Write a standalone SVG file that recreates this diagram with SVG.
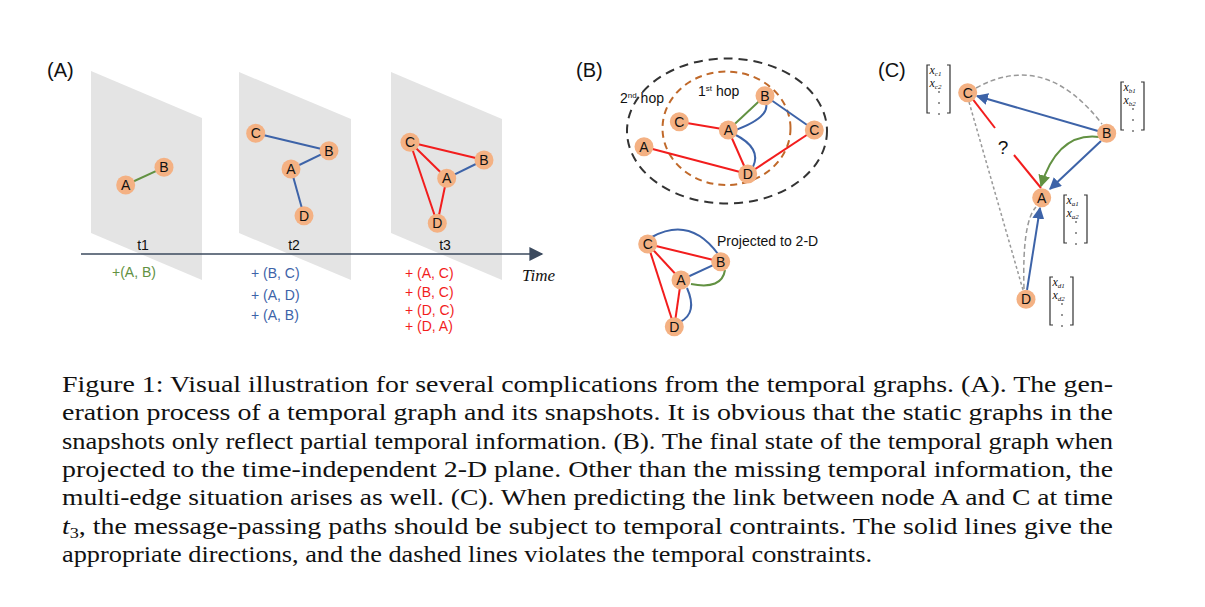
<svg xmlns="http://www.w3.org/2000/svg" width="1205" height="607" viewBox="0 0 1205 607">
<defs>
<style>
.plane{fill:#e4e4e4}
.nd{fill:#f4b183}
.nl{font-family:"Liberation Sans",Arial,sans-serif;font-size:14px;fill:#111;text-anchor:middle;dominant-baseline:central}
.lab{font-family:"Liberation Sans",Arial,sans-serif;font-size:20px;fill:#111}
.sm{font-family:"Liberation Sans",Arial,sans-serif;font-size:14px}
.g{stroke:#629142;stroke-width:2;fill:none}
.b{stroke:#3d63a8;stroke-width:2;fill:none}
.r{stroke:#f21d1d;stroke-width:2;fill:none}
.dg{stroke:#999;stroke-width:1.5;fill:none;stroke-dasharray:5 3}
.cap{font-family:"Liberation Serif","Times New Roman",serif;font-size:23px;fill:#111}
.mx{font-family:"Liberation Serif",serif;font-style:italic;font-size:12px;fill:#111}
.br{stroke:#333;stroke-width:1.2;fill:none}
</style>
<marker id="ab" viewBox="0 0 10 10" refX="9" refY="5" markerWidth="6" markerHeight="6" orient="auto"><path d="M0,0 L10,5 L0,10 z" fill="#3d63a8"/></marker>
<marker id="ag" viewBox="0 0 10 10" refX="9" refY="5" markerWidth="6" markerHeight="6" orient="auto"><path d="M0,0 L10,5 L0,10 z" fill="#629142"/></marker>
<marker id="at" viewBox="0 0 10 10" refX="9" refY="5" markerWidth="15" markerHeight="14" orient="auto" markerUnits="userSpaceOnUse"><path d="M0,0 L10,5 L0,10 z" fill="#3b4a5e"/></marker>
<symbol id="mat" overflow="visible">
<path class="br" d="M3,0 H0 V48 H3 M20,0 H23 V48 H20"/>
<circle cx="12" cy="27" r="0.8" fill="#111"/>
<circle cx="12" cy="38" r="0.8" fill="#111"/>
<circle cx="12" cy="49" r="0.8" fill="#111"/>
</symbol>
</defs>
<rect width="1205" height="607" fill="#fff"/>

<!-- Panel A -->
<g id="panelA">
<text class="lab" x="47" y="77">(A)</text>
<polygon class="plane" points="91,71 202,118 202,280 91,233"/>
<polygon class="plane" points="239,72 351,119 351,280 239,233"/>
<polygon class="plane" points="391,72 502,119 502,280 391,233"/>
<text class="sm" x="143" y="250" text-anchor="middle" fill="#111">t1</text>
<text class="sm" x="294" y="250" text-anchor="middle" fill="#111">t2</text>
<text class="sm" x="445" y="250" text-anchor="middle" fill="#111">t3</text>
<text x="522" y="281" font-family="Liberation Serif,serif" font-style="italic" font-size="17" fill="#111">Time</text>
<text class="sm" x="112" y="277" fill="#629142">+(A, B)</text>
<text class="sm" x="251" y="278" fill="#3d63a8">+ (B, C)</text>
<text class="sm" x="251" y="300" fill="#3d63a8">+ (A, D)</text>
<text class="sm" x="251" y="320" fill="#3d63a8">+ (A, B)</text>
<text class="sm" x="405" y="278" fill="#f21d1d">+ (A, C)</text>
<text class="sm" x="405" y="297" fill="#f21d1d">+ (B, C)</text>
<text class="sm" x="405" y="315" fill="#f21d1d">+ (D, C)</text>
<text class="sm" x="405" y="331" fill="#f21d1d">+ (D, A)</text>
</g>

<g id="connectors">
<line x1="81" y1="254" x2="542" y2="254" stroke="#3b4a5e" stroke-width="1.5" marker-end="url(#at)"/>
<line class="g" x1="125.7" y1="185" x2="164" y2="167.3"/>
<line class="b" x1="255.7" y1="133.3" x2="329" y2="150.7"/>
<line class="b" x1="291" y1="169" x2="329" y2="150.7"/>
<line class="b" x1="291" y1="169" x2="304" y2="215.7"/>
<line class="r" x1="410" y1="142.3" x2="484" y2="160"/>
<line class="r" x1="410" y1="142.3" x2="446.7" y2="178.3"/>
<line class="r" x1="410" y1="142.3" x2="437.3" y2="223.3"/>
<line class="r" x1="446.7" y1="178.3" x2="437.3" y2="223.3"/>
<line class="b" x1="446.7" y1="178.3" x2="484" y2="160"/>
<ellipse cx="727" cy="131" rx="100" ry="72.5" fill="none" stroke="#333" stroke-width="2" stroke-dasharray="9 6"/>
<ellipse cx="726.5" cy="128.3" rx="64" ry="56.7" fill="none" stroke="#c0692a" stroke-width="2" stroke-dasharray="7 5"/>
<line class="r" x1="679.3" y1="121.7" x2="728.3" y2="130"/>
<line class="g" x1="728.3" y1="130" x2="765" y2="95.7"/>
<path class="b" d="M733,131 Q770,118 766,103"/>
<path class="b" d="M734,134 Q762,148 753,167"/>
<line class="b" x1="765" y1="95.7" x2="814.3" y2="130"/>
<line class="r" x1="814.3" y1="130" x2="747.7" y2="174"/>
<line class="r" x1="644" y1="146.7" x2="747.7" y2="174"/>
<line class="r" x1="728.3" y1="130" x2="747.7" y2="174"/>
<path class="b" d="M652,237 Q690,216 718,254"/>
<line class="r" x1="647.7" y1="244" x2="720.7" y2="261.7"/>
<line class="r" x1="647.7" y1="244" x2="681" y2="280"/>
<line class="r" x1="647.7" y1="244" x2="674.3" y2="326.7"/>
<line class="r" x1="681" y1="280" x2="674.3" y2="326.7"/>
<path class="b" d="M687,288 Q698,313 680,322"/>
<line class="b" x1="681" y1="280" x2="720.7" y2="261.7"/>
<path class="g" d="M691,284 Q722,290 725,270"/>
<path class="dg" d="M976,88 Q1045,50 1102,124"/>
<line x1="969" y1="102" x2="1023" y2="290" stroke="#999" stroke-width="1.5" stroke-dasharray="3 2.5"/>
<path class="dg" d="M1024,289 Q1022,222 1036,207"/>
<line class="r" x1="967.7" y1="92.7" x2="995" y2="128"/>
<line class="r" x1="1014" y1="155" x2="1041" y2="188"/>
<line class="b" x1="1098" y1="131" x2="977" y2="96" marker-end="url(#ab)"/>
<line class="b" x1="1101" y1="141" x2="1050" y2="189" marker-end="url(#ab)"/>
<path class="g" d="M1099,137 Q1058,132 1041,186" marker-end="url(#ag)"/>
<line class="b" x1="1027" y1="290" x2="1040" y2="208" marker-end="url(#ab)"/>
</g>

<g id="nA1_A"><circle class="nd" cx="125.7" cy="185" r="9.5"/><text class="nl" x="125.7" y="185">A</text></g>
<g id="nA1_B"><circle class="nd" cx="164" cy="167.3" r="9.5"/><text class="nl" x="164" y="167.3">B</text></g>
<g id="nA2_C"><circle class="nd" cx="255.7" cy="133.3" r="9.5"/><text class="nl" x="255.7" y="133.3">C</text></g>
<g id="nA2_B"><circle class="nd" cx="329" cy="150.7" r="9.5"/><text class="nl" x="329" y="150.7">B</text></g>
<g id="nA2_A"><circle class="nd" cx="291" cy="169" r="9.5"/><text class="nl" x="291" y="169">A</text></g>
<g id="nA2_D"><circle class="nd" cx="304" cy="215.7" r="9.5"/><text class="nl" x="304" y="215.7">D</text></g>
<g id="nA3_C"><circle class="nd" cx="410" cy="142.3" r="9.5"/><text class="nl" x="410" y="142.3">C</text></g>
<g id="nA3_B"><circle class="nd" cx="484" cy="160" r="9.5"/><text class="nl" x="484" y="160">B</text></g>
<g id="nA3_A"><circle class="nd" cx="446.7" cy="178.3" r="9.5"/><text class="nl" x="446.7" y="178.3">A</text></g>
<g id="nA3_D"><circle class="nd" cx="437.3" cy="223.3" r="9.5"/><text class="nl" x="437.3" y="223.3">D</text></g>

<g id="panelB">
<text class="lab" x="576" y="77">(B)</text>
<text class="sm" x="620" y="103" fill="#111">2<tspan font-size="8" dy="-5">nd</tspan><tspan dy="5"> hop</tspan></text>
<text class="sm" x="698" y="96" fill="#111">1<tspan font-size="8" dy="-5">st</tspan><tspan dy="5"> hop</tspan></text>
<text class="sm" x="717" y="246" fill="#111">Projected to 2-D</text>
</g>
<g id="nB_B"><circle class="nd" cx="765" cy="95.7" r="9.5"/><text class="nl" x="765" y="95.7">B</text></g>
<g id="nB_C1"><circle class="nd" cx="679.3" cy="121.7" r="9.5"/><text class="nl" x="679.3" y="121.7">C</text></g>
<g id="nB_A"><circle class="nd" cx="728.3" cy="130" r="9.5"/><text class="nl" x="728.3" y="130">A</text></g>
<g id="nB_C2"><circle class="nd" cx="814.3" cy="130" r="9.5"/><text class="nl" x="814.3" y="130">C</text></g>
<g id="nB_A2"><circle class="nd" cx="644" cy="146.7" r="9.5"/><text class="nl" x="644" y="146.7">A</text></g>
<g id="nB_D"><circle class="nd" cx="747.7" cy="174" r="9.5"/><text class="nl" x="747.7" y="174">D</text></g>
<g id="nP_C"><circle class="nd" cx="647.7" cy="244" r="9.5"/><text class="nl" x="647.7" y="244">C</text></g>
<g id="nP_B"><circle class="nd" cx="720.7" cy="261.7" r="9.5"/><text class="nl" x="720.7" y="261.7">B</text></g>
<g id="nP_A"><circle class="nd" cx="681" cy="280" r="9.5"/><text class="nl" x="681" y="280">A</text></g>
<g id="nP_D"><circle class="nd" cx="674.3" cy="326.7" r="9.5"/><text class="nl" x="674.3" y="326.7">D</text></g>

<g id="panelC">
<text class="lab" x="878" y="77">(C)</text>
<text x="1003" y="154" font-family="Liberation Sans,Arial,sans-serif" font-size="19" fill="#111" text-anchor="middle">?</text>
</g>
<g id="nC_C"><circle class="nd" cx="967.7" cy="92.7" r="9.5"/><text class="nl" x="967.7" y="92.7">C</text></g>
<g id="nC_B"><circle class="nd" cx="1106.7" cy="133.3" r="9.5"/><text class="nl" x="1106.7" y="133.3">B</text></g>
<g id="nC_A"><circle class="nd" cx="1041.7" cy="197.7" r="9.5"/><text class="nl" x="1041.7" y="197.7">A</text></g>
<g id="nC_D"><circle class="nd" cx="1026" cy="299.3" r="9.5"/><text class="nl" x="1026" y="299.3">D</text></g>

<g id="matC" transform="translate(927,65)"><use href="#mat"/><text class="mx" x="2.5" y="9">x<tspan font-size="7" dy="1.5">c1</tspan></text><text class="mx" x="2.5" y="22">x<tspan font-size="7" dy="1.5">c2</tspan></text></g>
<g id="matB" transform="translate(1121,82)"><use href="#mat"/><text class="mx" x="2.5" y="9">x<tspan font-size="7" dy="1.5">b1</tspan></text><text class="mx" x="2.5" y="22">x<tspan font-size="7" dy="1.5">b2</tspan></text></g>
<g id="matA" transform="translate(1064,195)"><use href="#mat"/><text class="mx" x="2.5" y="9">x<tspan font-size="7" dy="1.5">a1</tspan></text><text class="mx" x="2.5" y="22">x<tspan font-size="7" dy="1.5">a2</tspan></text></g>
<g id="matD" transform="translate(1050,277)"><use href="#mat"/><text class="mx" x="2.5" y="9">x<tspan font-size="7" dy="1.5">d1</tspan></text><text class="mx" x="2.5" y="22">x<tspan font-size="7" dy="1.5">d2</tspan></text></g>

<g id="caption" class="cap">
<text x="62" y="392" textLength="1051" lengthAdjust="spacingAndGlyphs">Figure 1:  Visual illustration for several complications from the temporal graphs.  (A). The gen-</text>
<text x="62" y="420" textLength="1051" lengthAdjust="spacingAndGlyphs">eration process of a temporal graph and its snapshots.  It is obvious that the static graphs in the</text>
<text x="62" y="449" textLength="1051" lengthAdjust="spacingAndGlyphs">snapshots only reflect partial temporal information. (B). The final state of the temporal graph when</text>
<text x="62" y="477" textLength="1051" lengthAdjust="spacingAndGlyphs">projected to the time-independent 2-D plane.  Other than the missing temporal information, the</text>
<text x="62" y="505" textLength="1051" lengthAdjust="spacingAndGlyphs">multi-edge situation arises as well.  (C). When predicting the link between node A and C at time</text>
<text x="62" y="534" textLength="1051" lengthAdjust="spacingAndGlyphs"><tspan font-style="italic">t</tspan><tspan font-size="15" dy="4">3</tspan><tspan dy="-4">, the message-passing paths should be subject to temporal contraints.  The solid lines give the</tspan></text>
<text x="62" y="562" textLength="810" lengthAdjust="spacingAndGlyphs">appropriate directions, and the dashed lines violates the temporal constraints.</text>
</g>
</svg>
